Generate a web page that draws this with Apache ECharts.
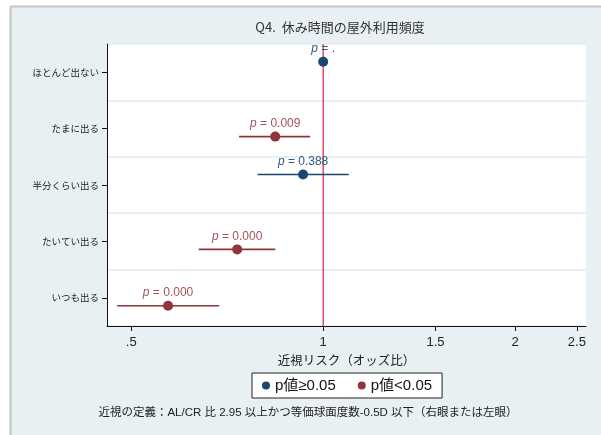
<!DOCTYPE html>
<html>
<head>
<meta charset="utf-8">
<script src="https://cdn.jsdelivr.net/npm/echarts@6/dist/echarts.min.js"></script>
<style>
    html, body { margin: 0; padding: 0; background: #fff; }
    #chart { width: 601px; height: 435px; }
</style>
</head>
<body>
<div id="chart"></div>
<script>
var categories = ['ほとんど出ない', 'たまに出る', '半分くらい出る', 'たいてい出る', 'いつも出る'];
var oddsRatio = [1, 0.841, 0.930, 0.733, 0.571];
var ciLower = [null, 0.738, 0.789, 0.638, 0.475];
var ciUpper = [null, 0.954, 1.097, 0.841, 0.687];
var pValues = ['.', '0.009', '0.388', '0.000', '0.000'];
var xTicks = [0.5, 1, 1.5, 2, 2.5];
var refValue = 1;

var blue = '#1a476f';
var red = '#90353b';
var fontLatin = "'Liberation Sans', Arial, 'Noto Sans CJK JP'";
var fontJp = "'Noto Sans CJK JP', 'Liberation Sans'";

function isSig(p) {
    return p !== '.' && parseFloat(p) < 0.05;
}

var blueData = [];
var redData = [];
for (var i = 0; i < categories.length; i++) {
    var lo = ciLower[i] === null ? oddsRatio[i] : ciLower[i];
    var hi = ciUpper[i] === null ? oddsRatio[i] : ciUpper[i];
    var row = [oddsRatio[i], i, lo, hi];
    if (isSig(pValues[i])) {
        redData.push(row);
    } else {
        blueData.push(row);
    }
}

function makeRender(color, shift, textColor) {
    return function (params, api) {
        var idx = api.value(1);
        var pt = api.coord([api.value(0), idx]);
        var pLo = api.coord([api.value(2), idx]);
        var pHi = api.coord([api.value(3), idx]);
        var y = pt[1] + shift;
        return {
            type: 'group',
            children: [{
                type: 'line',
                shape: { x1: pLo[0], y1: y, x2: pHi[0], y2: y },
                style: { stroke: color, lineWidth: 1.6 }
            }, {
                type: 'circle',
                shape: { cx: pt[0], cy: y, r: 5 },
                style: { fill: color }
            }, {
                type: 'text',
                x: pt[0],
                y: y - 13,
                style: {
                    text: '{i|p} = ' + pValues[idx],
                    align: 'center',
                    verticalAlign: 'middle',
                    fill: textColor,
                    font: '12px ' + fontLatin,
                    rich: {
                        i: { fontStyle: 'italic', fontSize: 12, fontFamily: fontLatin, fill: textColor }
                    }
                }
            }]
        };
    };
}

var chart = echarts.init(document.getElementById('chart'));

var option = {
    backgroundColor: '#fff',
    animation: false,
    graphic: [{
        type: 'rect',
        z: -10,
        shape: { x: 10, y: 6, width: 591, height: 429 },
        style: { fill: '#e8f0f3' }
    }, {
        type: 'line',
        z: -9,
        shape: { x1: 10.5, y1: 6, x2: 10.5, y2: 435 },
        style: { stroke: '#c4c4c4', lineWidth: 2 }
    }, {
        type: 'line',
        z: -9,
        shape: { x1: 10, y1: 6.5, x2: 601, y2: 6.5 },
        style: { stroke: '#c4c4c4', lineWidth: 2 }
    }, {
        type: 'text',
        x: 308,
        y: 413,
        style: {
            text: '近視の定義：AL/CR 比 2.95 以上かつ等価球面度数-0.5D 以下（右眼または左眼）',
            align: 'center',
            verticalAlign: 'middle',
            fill: '#222',
            font: '11.5px ' + fontLatin
        }
    }],
    title: {
        text: 'Q4.  休み時間の屋外利用頻度',
        left: 340,
        top: 21,
        textAlign: 'center',
        padding: 0,
        textStyle: {
            fontSize: 13,
            fontWeight: 'normal',
            color: '#333',
            fontFamily: fontJp
        }
    },
    legend: {
        left: 252,
        top: 373,
        orient: 'horizontal',
        backgroundColor: '#fff',
        borderColor: '#222',
        borderWidth: 1,
        borderRadius: 0,
        padding: [5, 10],
        itemGap: 22,
        itemWidth: 8,
        itemHeight: 8,
        textStyle: { fontSize: 15, color: '#111', fontFamily: fontLatin },
        data: [{ name: 'p値≥0.05', icon: 'circle' }, { name: 'p値<0.05', icon: 'circle' }]
    },
    grid: {
        left: 107,
        right: 15,
        top: 44,
        bottom: 109,
        show: true,
        backgroundColor: '#fff',
        borderWidth: 0
    },
    xAxis: {
        type: 'log',
        min: 0.458,
        max: 2.584,
        name: '近視リスク（オッズ比）',
        nameLocation: 'middle',
        nameGap: 28,
        nameTextStyle: { fontSize: 12.5, color: '#222', fontFamily: fontJp },
        axisLine: { show: true, lineStyle: { color: '#111', width: 1 } },
        axisTick: { show: true, length: 5, customValues: xTicks, lineStyle: { color: '#111' } },
        axisLabel: {
            customValues: xTicks,
            margin: 10,
            fontSize: 13,
            color: '#222',
            fontFamily: fontLatin,
            formatter: function (v) {
                return v === 0.5 ? '.5' : String(v);
            }
        },
        splitLine: { show: false },
        minorTick: { show: false }
    },
    yAxis: {
        type: 'category',
        data: categories,
        inverse: true,
        axisLine: { show: true, lineStyle: { color: '#111', width: 1 } },
        axisTick: { show: true, alignWithLabel: true, length: 5, lineStyle: { color: '#111' } },
        axisLabel: { fontSize: 9.5, color: '#222', margin: 8, fontFamily: fontJp },
        splitLine: { show: true, lineStyle: { color: '#e8f0f3', width: 2 } }
    },
    series: [{
        name: 'ref',
        type: 'custom',
        encode: { x: 0, y: 1 },
        data: [[refValue, 0]],
        z: 3,
        silent: true,
        renderItem: function (params, api) {
            var p = api.coord([api.value(0), 0]);
            var cs = params.coordSys;
            return {
                type: 'line',
                shape: { x1: p[0], y1: cs.y, x2: p[0], y2: cs.y + cs.height },
                style: { stroke: '#d21f4b', lineWidth: 1.2 }
            };
        }
    }, {
        name: 'p値≥0.05',
        type: 'custom',
        itemStyle: { color: blue },
        renderItem: makeRender(blue, -10.5, '#2f5a82'),
        encode: { x: 0, y: 1 },
        data: blueData,
        z: 5
    }, {
        name: 'p値<0.05',
        type: 'custom',
        itemStyle: { color: red },
        renderItem: makeRender(red, 8, '#a4535a'),
        encode: { x: 0, y: 1 },
        data: redData,
        z: 5
    }]
};

chart.setOption(option);
</script>
</body>
</html>
